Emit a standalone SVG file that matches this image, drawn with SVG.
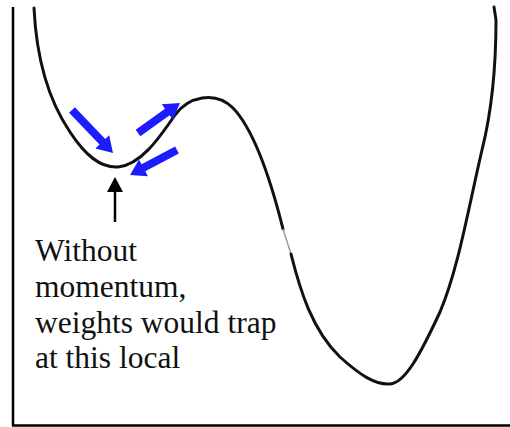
<svg xmlns="http://www.w3.org/2000/svg" width="510" height="427" viewBox="0 0 510 427">
<style>
.axis{stroke:#000;stroke-width:2.5;fill:none}
.curve{stroke:#111;stroke-width:3;fill:none;stroke-linecap:round}
.blue{fill:#1c1cff}
.lbl{font-size:31.5px;fill:#111}
</style>
<rect width="510" height="427" fill="#fff"/>
<g id="axes">
<line class="axis" x1="13" y1="7" x2="13" y2="426"/>
<line class="axis" x1="12" y1="425.5" x2="510" y2="425.5"/>
</g>
<g id="curve">
<path class="curve" d="M34,8 C36,50 45,95 70,132 C85,155 100,168 118,167 C140,165 158,140 175,115 C188,97 215,90 233,108 C256,132 272,185 283,229"/>
<path d="M283,229 L291,254" stroke="#999" stroke-width="1.5" fill="none"/>
<path class="curve" d="M291,254 C300,290 312,330 340,357 C360,375 375,385 390,384 C405,383 420,355 440,312 C458,270 468,210 482,150 C492,110 496,60 496,20 L494,7"/>
</g>
<g id="connectors">
<polygon class="blue" transform="translate(72,110) rotate(46.4)" points="0,-4 44,-4 44,-9.5 59.4,0 44,9.5 44,4 0,4"/>
<polygon class="blue" transform="translate(138,133) rotate(-35.5)" points="0,-4 36,-4 36,-9.5 51.6,0 36,9.5 36,4 0,4"/>
<polygon class="blue" transform="translate(177,150) rotate(152)" points="0,-4 38,-4 38,-9.5 53.2,0 38,9.5 38,4 0,4"/>
<line x1="115" y1="190" x2="115" y2="222" stroke="#000" stroke-width="2.5"/>
<polygon points="115,177 123,192 107,192" fill="#000"/>
</g>
<g id="label" font-family="Liberation Serif, Times New Roman, DejaVu Serif, serif">
<text class="lbl" x="35" y="261">Without</text>
<text class="lbl" x="35" y="297">momentum,</text>
<text class="lbl" x="35" y="333">weights would trap</text>
<text class="lbl" x="35" y="368">at this local</text>
</g>
</svg>
